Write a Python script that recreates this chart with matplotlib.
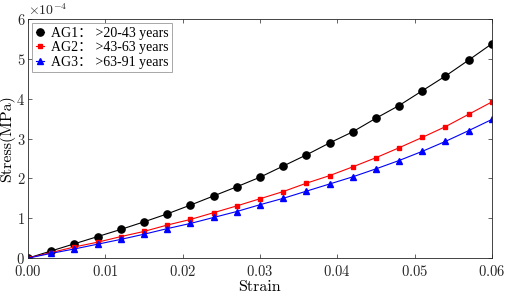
import numpy as np
import matplotlib
matplotlib.use('Agg')
import matplotlib.pyplot as plt
from matplotlib.ticker import MultipleLocator

strain = [0.000, 0.003, 0.006, 0.009, 0.012, 0.015, 0.018, 0.021, 0.024, 0.027, 0.030,
          0.033, 0.036, 0.039, 0.042, 0.045, 0.048, 0.051, 0.054, 0.057, 0.060]
ag1 = [0.00, 0.18, 0.36, 0.54, 0.72, 0.91, 1.11, 1.33, 1.56, 1.79, 2.03,
       2.31, 2.59, 2.89, 3.17, 3.51, 3.83, 4.20, 4.57, 4.97, 5.38]
ag2 = [0.00, 0.14, 0.28, 0.40, 0.54, 0.67, 0.83, 0.97, 1.14, 1.31, 1.49,
       1.67, 1.88, 2.07, 2.29, 2.52, 2.77, 3.03, 3.30, 3.61, 3.92]
ag3 = [0.00, 0.12, 0.23, 0.35, 0.47, 0.60, 0.74, 0.87, 1.02, 1.17, 1.34,
       1.50, 1.68, 1.86, 2.04, 2.24, 2.45, 2.68, 2.93, 3.20, 3.48]
labels = ['AG1\uff1a >20-43 years', 'AG2\uff1a >43-63 years', 'AG3\uff1a >63-91 years']

plt.rcParams['font.family'] = ['cmr10', 'Noto Sans CJK SC', 'DejaVu Sans']
plt.rcParams['axes.formatter.use_mathtext'] = True
plt.rcParams['mathtext.fontset'] = 'cm'

fig = plt.figure(figsize=(5.05, 2.93), dpi=100)
ax = fig.add_axes([0.0554, 0.119, 0.9186, 0.816])

ax.plot(strain, np.array(ag1) * 1e-4, '-o', color='k', lw=0.8, ms=5.2, label=labels[0])
ax.plot(strain, np.array(ag2) * 1e-4, '-s', color='#ff0000', mfc='#ff0000', lw=0.8, ms=3.3, label=labels[1])
ax.plot(strain, np.array(ag3) * 1e-4, '-^', color='#0000ff', lw=0.8, ms=4, label=labels[2])

ax.set_xlim(0, 0.06)
ax.set_ylim(0, 6e-4)
ax.xaxis.set_major_locator(MultipleLocator(0.01))
ax.yaxis.set_major_locator(MultipleLocator(1e-4))
ax.tick_params(direction='in', top=True, right=True, labelsize=10.5, length=3, width=0.5,
               colors='#262626', pad=2)
ax.tick_params(axis='x', pad=4)
for s in ax.spines.values():
    s.set_color('#262626')
    s.set_linewidth(0.6)
ax.ticklabel_format(axis='y', style='sci', scilimits=(0, 0))
ax.yaxis.get_offset_text().set_fontsize(10)

ax.set_xlabel('Strain', fontsize=11.5, labelpad=1)
ax.set_ylabel('Stress(MPa)', fontsize=11.5, labelpad=1)

leg = ax.legend(loc='upper left', prop={'family': ['Liberation Serif', 'Noto Sans CJK SC'], 'size': 10},
                fancybox=False, edgecolor='#999999',
                framealpha=1, handlelength=0.6, handletextpad=0.5, borderpad=0.25,
                labelspacing=0.12, borderaxespad=0.3)
leg.get_frame().set_linewidth(0.6)

fig.savefig('out.png', dpi=100)
